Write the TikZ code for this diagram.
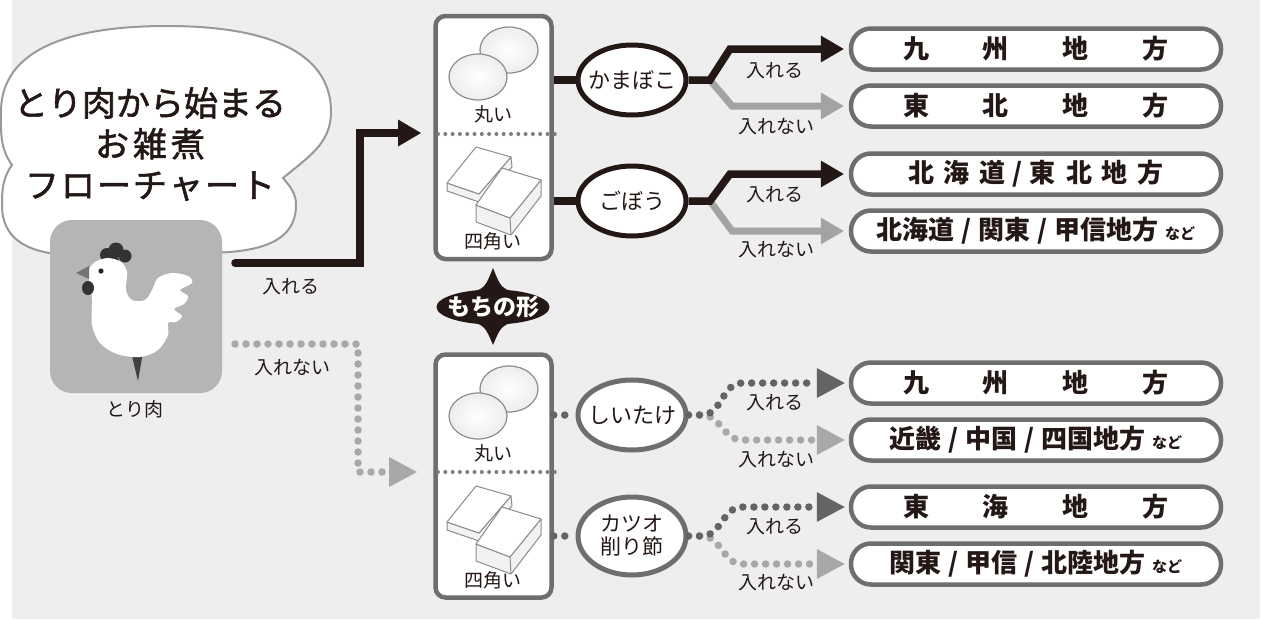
\documentclass[tikz,border=0pt]{standalone}
\usepackage{fontspec}
\newfontfamily\jp{Noto Sans CJK JP}
\newfontfamily\jptitle{Noto Sans CJK JP}[FakeBold=1.6]
\usetikzlibrary{arrows.meta,shapes.geometric,calc}
\definecolor{bg}{HTML}{EEEEEE}
\definecolor{ink}{HTML}{231815}
\definecolor{frame}{HTML}{6E6E6E}
\definecolor{lgray}{HTML}{A3A3A3}
\definecolor{dotdk}{HTML}{646464}
\definecolor{dotlt}{HTML}{A8A8A8}
\definecolor{henbg}{HTML}{B5B5B5}
\definecolor{mochiline}{HTML}{8C8C8C}

% round and square rice cakes inside one shape box
\newcommand{\mochiart}{%
  \shadedraw[inner color=white, outer color=black!7, draw=mochiline, line width=1.2pt]
    (509,-50) ellipse [x radius=29, y radius=23];
  \shadedraw[inner color=white, outer color=black!7, draw=mochiline, line width=1.2pt]
    (478,-77) ellipse [x radius=29, y radius=23];
  % back slab
  \filldraw[fill=black!5, draw=mochiline, line width=1pt, line join=round]
    (447,-183) -- (447,-191) -- (479,-202) -- (512,-167) -- (511,-157) -- (479,-194) -- cycle;
  \filldraw[fill=white, draw=mochiline, line width=1pt, line join=round]
    (447,-183) -- (476,-147) -- (511,-157) -- (479,-194) -- cycle;
  % front slab
  \filldraw[fill=black!5, draw=mochiline, line width=1pt, line join=round]
    (476,-205) -- (476,-222) -- (511,-235) -- (541,-196) -- (541,-180) -- (510,-218) -- cycle;
  \filldraw[fill=white, draw=mochiline, line width=1pt, line join=round]
    (476,-205) -- (502,-168) -- (541,-180) -- (510,-218) -- cycle;
  \draw[mochiline, line width=1pt] (510,-218) -- (511,-235);
}

\begin{document}
\begin{tikzpicture}[x=1pt, y=1pt,
  lbl/.style={font=\jp\fontsize{19}{19}\selectfont, text=ink, inner sep=0pt},
  shapebox/.style={draw=frame, line width=4.5pt, fill=white, rounded corners=10pt,
    minimum width=116pt, minimum height=243pt, inner sep=0pt},
  ell/.style={ellipse, draw=ink, line width=5pt, fill=white, minimum width=108pt,
    minimum height=70pt, inner xsep=-30pt, inner ysep=0pt, align=center,
    font=\jp\fontsize{22}{25}\selectfont, text=ink},
  rbox/.style={draw=frame, line width=4.5pt, fill=white, rounded corners=20pt,
    minimum width=370pt, minimum height=41pt, inner sep=0pt,
    font=\jp\bfseries\fontsize{26}{26}\selectfont, text=ink},
  solidline/.style={line width=7.5pt, draw=ink},
  solidarr/.style={line width=7.5pt, draw=ink,
    -{Triangle[length=23pt, width=27pt, line width=0pt]}, shorten >=5pt},
  grayarr/.style={line width=7pt, draw=lgray,
    -{Triangle[length=23pt, width=27pt, line width=0pt]}, shorten >=5pt},
  dotline/.style={line width=7.5pt, line cap=round, dash pattern=on 0pt off 11pt},
  dotarr/.style={dotline, -{Triangle[length=28pt, width=30pt, line width=0pt]}, shorten >=4pt},
  sepdots/.style={line width=4pt, line cap=round, dash pattern=on 0pt off 7.3pt, draw=frame!90},
]
\useasboundingbox (0,0) rectangle (1262,-619);
\fill[bg] (12,0) rectangle (1260,-619);

% ---- title bubble ----
\filldraw[fill=white, draw=black!40, line width=2pt]
  (12,-165) to[out=125,in=-90] (1,-112) to[out=90,in=180] (167,-26)
  to[out=0,in=90] (331,-112) to[out=-90,in=40] (283,-178)
  to[out=-50,in=90] (296,-205) to[out=-90,in=0] (170,-253)
  to[out=180,in=-90] (2,-205) to[out=90,in=-125] cycle;
\node[font=\jptitle\fontsize{34}{41}\selectfont, text=ink, align=center, inner sep=0pt] (title)
  at (150,-144) {とり肉から始まる\\お\hspace{4pt}雑\hspace{4pt}煮\\フ\hspace{2pt}ロ\hspace{2pt}ー\hspace{2pt}チ\hspace{2pt}ャ\hspace{2pt}ー\hspace{2pt}ト};

% ---- chicken ----
\node[fill=henbg, rounded corners=22pt, minimum width=172pt, minimum height=173pt, inner sep=0pt]
  (hen) at (136,-306.5) {};
\fill[black!75] (131,-352) -- (143,-352) -- (138,-381) -- cycle;
\fill[black!80] (107,-255) circle (7) (116,-250) circle (7.5) (125,-256) circle (6.5) (113,-261) circle (6);
\fill[white] plot[smooth cycle, tension=0.55] coordinates {
  (95,-262) (108,-258) (121,-262) (127,-272) (126,-290) (132,-300) (145,-300)
  (152,-290) (158,-278) (172,-273) (188,-276) (192,-283) (180,-290) (188,-296)
  (184,-304) (174,-309) (182,-316) (176,-322) (168,-323) (168,-335) (158,-350)
  (140,-357) (117,-354) (100,-343) (92,-325) (92,-300) (90,-285) (88,-272)};
\fill[black!85] (101,-271) circle (2.6);
\fill[black!55] (89,-266) -- (76,-273) -- (89,-279) -- cycle;
\fill[black!80] (88,-288) ellipse [x radius=6, y radius=7];
\node[lbl] (henlbl) at (135,-409) {とり肉};

% ---- shape boxes ----
\node[shapebox] (upbox) at (493.5,-137.5) {};
\node[shapebox] (lowbox) at (493.5,-476) {};
\draw[sepdots] (438,-134) -- (556,-134);
\draw[sepdots] (438,-472) -- (556,-472);
\mochiart
\begin{scope}[yshift=-339pt]
  \mochiart
\end{scope}
\node[lbl] (round1) at (493,-114) {丸い};
\node[lbl] (square1) at (493,-241) {四角い};
\node[lbl] (round2) at (493,-453) {丸い};
\node[lbl] (square2) at (493,-580) {四角い};

% ---- rice cake shape tag ----
\node[ellipse, fill=ink, minimum width=113pt, minimum height=35pt, inner xsep=-20pt, inner ysep=0pt,
  text=white, font=\jp\bfseries\fontsize{23}{23}\selectfont] (shape) at (493,-307) {もちの形};
\fill[ink] (468,-294) .. controls (485,-288) .. (493,-268) .. controls (501,-288) .. (518,-294) -- cycle;
\fill[ink] (468,-320) .. controls (485,-326) .. (493,-345) .. controls (501,-326) .. (518,-320) -- cycle;

% ---- chicken branches ----
\coordinate (s1) at (235,-263);
\coordinate (t1) at (421,-133);
\coordinate (s2) at (235,-344);
\coordinate (t2) at (421,-472);
\draw[solidline, line cap=round, -{Triangle[length=23pt, width=27pt, line width=0pt]}]
  (s1) -- (360,-263) -- (360,-133) -- (t1);
\draw[dotarr, draw=dotlt] (s2) -- (358,-344) -- (358,-472) -- (t2);
\node[lbl] (in0) at (291,-287) {入れる};
\node[lbl] (out0) at (292,-368) {入れない};

% ---- topping nodes ----
\node[ell] (kama) at (632,-80) {かまぼこ};
\node[ell] (gobo) at (632,-201) {ごぼう};
\node[ell, draw=frame] (shii) at (632,-415) {しいたけ};
\node[ell, draw=frame, minimum height=78pt, font=\jp\fontsize{21}{23}\selectfont] (katsuo) at (632,-536) {カツオ\\削り節};

% ---- region boxes ----
\node[rbox] (r1) at (1036,-49) {九\hspace{54pt}州\hspace{54pt}地\hspace{54pt}方};
\node[rbox] (r2) at (1036,-106) {東\hspace{54pt}北\hspace{54pt}地\hspace{54pt}方};
\node[rbox] (r3) at (1036,-174) {北\hspace{10pt}海\hspace{10pt}道\hspace{7pt}/\hspace{7pt}東\hspace{10pt}北\hspace{10pt}地\hspace{10pt}方};
\node[rbox] (r4) at (1036,-231) {北海道\hspace{7pt}/\hspace{7pt}関東\hspace{7pt}/\hspace{7pt}甲信地方\hspace{6pt}{\fontsize{15}{15}\selectfont など}};
\node[rbox] (r5) at (1036,-383) {九\hspace{54pt}州\hspace{54pt}地\hspace{54pt}方};
\node[rbox] (r6) at (1036,-440) {近畿\hspace{7pt}/\hspace{7pt}中国\hspace{7pt}/\hspace{7pt}四国地方\hspace{6pt}{\fontsize{15}{15}\selectfont など}};
\node[rbox] (r7) at (1036,-507) {東\hspace{54pt}海\hspace{54pt}地\hspace{54pt}方};
\node[rbox] (r8) at (1036,-564) {関東\hspace{7pt}/\hspace{7pt}甲信\hspace{7pt}/\hspace{7pt}北陸地方\hspace{6pt}{\fontsize{15}{15}\selectfont など}};

% ---- solid connectors (round rice cakes with chicken) ----
\draw[solidline] (upbox.east |- kama) -- (kama.west);
\draw[solidline] (upbox.east |- gobo) -- (gobo.west);
\draw[grayarr] (kama.east) -- (710,-80) -- (r2.west -| 732,0) -- (r2.west);
\draw[solidarr] (kama.east) -- (710,-80) -- (r1.west -| 730,0) -- (r1.west);
\draw[grayarr] (gobo.east) -- (710,-201) -- (r4.west -| 732,0) -- (r4.west);
\draw[solidarr] (gobo.east) -- (710,-201) -- (r3.west -| 730,0) -- (r3.west);

% ---- dotted connectors ----
\draw[dotline, draw=dotdk] (lowbox.east |- shii) -- (shii.west);
\draw[dotline, draw=dotdk] (lowbox.east |- katsuo) -- (katsuo.west);
\draw[dotarr, draw=dotlt] (shii.east) -- (702,-415) to[out=0,in=180] (r6.west -| 742,0) -- (r6.west);
\draw[dotarr, draw=dotdk] (shii.east) -- (702,-415) to[out=0,in=180] (r5.west -| 742,0) -- (r5.west);
\draw[dotarr, draw=dotlt] (katsuo.east) -- (702,-536) to[out=0,in=180] (r8.west -| 742,0) -- (r8.west);
\draw[dotarr, draw=dotdk] (katsuo.east) -- (702,-536) to[out=0,in=180] (r7.west -| 742,0) -- (r7.west);

% ---- branch labels ----
\node[lbl] (in1) at (775,-71) {入れる};
\node[lbl] (out1) at (776,-127) {入れない};
\node[lbl] (in2) at (775,-195) {入れる};
\node[lbl] (out2) at (776,-250) {入れない};
\node[lbl] (in3) at (775,-403) {入れる};
\node[lbl] (out3) at (776,-460) {入れない};
\node[lbl] (in4) at (775,-527) {入れる};
\node[lbl] (out4) at (776,-583) {入れない};
\end{tikzpicture}
\end{document}
